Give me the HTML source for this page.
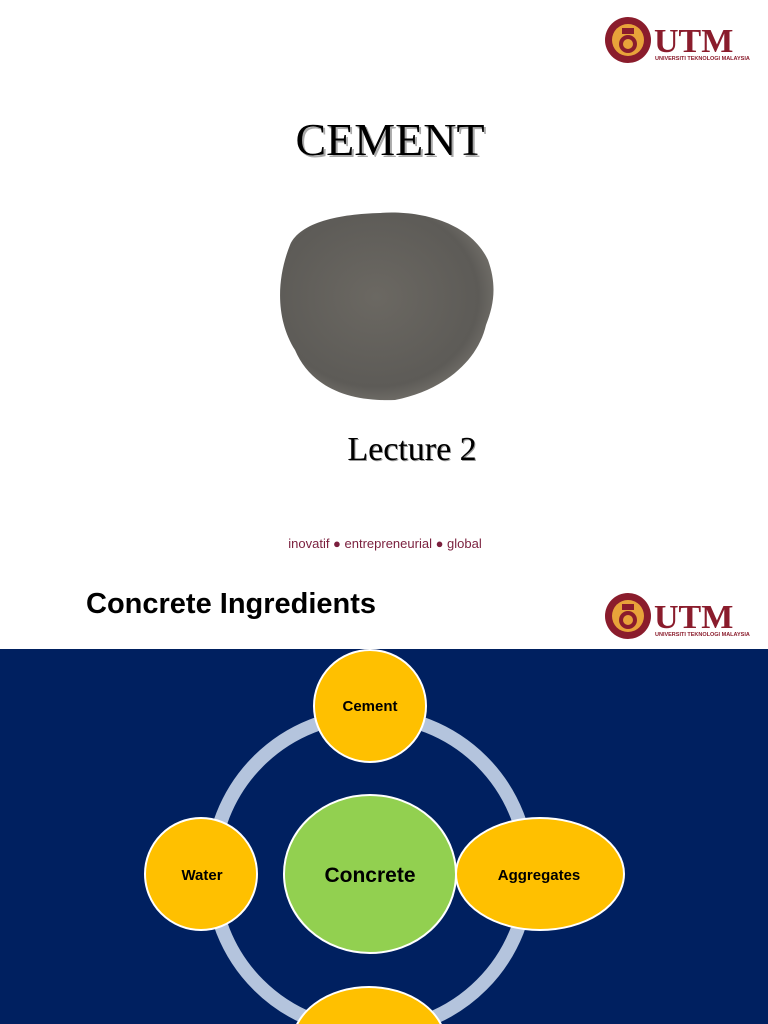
<!DOCTYPE html>
<html><head><meta charset="utf-8"><style>
html,body{margin:0;padding:0;width:768px;height:1024px;overflow:hidden;background:#fff;font-family:"Liberation Sans",sans-serif}
svg{display:block;position:absolute;left:0;top:0}
</style></head><body>
<svg width="768" height="1024" viewBox="0 0 768 1024">
  <defs>
    <radialGradient id="pw" cx="0.45" cy="0.45" r="0.6">
      <stop offset="0" stop-color="#6b6862"/>
      <stop offset="0.8" stop-color="#5d5b57"/>
      <stop offset="1" stop-color="#77746e"/>
    </radialGradient>
  </defs>
  <g id="logo">
    <circle cx="628" cy="40" r="23" fill="#8a1c2c"/>
    <circle cx="628" cy="40" r="16" fill="#e8a33a"/>
    <circle cx="628" cy="44" r="9" fill="#8a1c2c"/>
    <circle cx="628" cy="44" r="5" fill="#e8a33a"/>
    <rect x="622" y="28" width="12" height="6" fill="#8a1c2c"/>
    <text x="654" y="52" font-family="Liberation Serif,serif" font-size="34" font-weight="bold" fill="#8a1c2c">UTM</text>
    <text x="655" y="60" font-family="Liberation Sans,sans-serif" font-size="5.5" font-weight="bold" fill="#8a1c2c">UNIVERSITI TEKNOLOGI MALAYSIA</text>
  </g>
  <use href="#logo" y="576"/>
  <text x="392" y="157" text-anchor="middle" font-family="Liberation Serif,serif" font-size="46" fill="#aaa">CEMENT</text>
  <text x="390" y="155" text-anchor="middle" font-family="Liberation Serif,serif" font-size="46" fill="#000">CEMENT</text>
  <path d="M290 245 C300 222 340 214 380 213 C420 210 470 222 488 260 C497 285 494 305 486 325 C478 360 445 390 395 400 C345 402 310 385 295 350 C276 320 276 280 290 245Z" fill="url(#pw)"/>
  <text x="413" y="461" text-anchor="middle" font-family="Liberation Serif,serif" font-size="34" fill="#999">Lecture 2</text>
  <text x="412" y="460" text-anchor="middle" font-family="Liberation Serif,serif" font-size="34" fill="#000">Lecture 2</text>
  <text x="385" y="548" text-anchor="middle" font-size="13" fill="#7a1f3d">inovatif ● entrepreneurial ● global</text>
  <text x="86" y="613" font-size="29" font-weight="bold" fill="#000">Concrete Ingredients</text>
  <rect x="0" y="649" width="768" height="375" fill="#002060"/>
  <circle cx="370" cy="873" r="158" fill="none" stroke="#b4c4dd" stroke-width="14"/>
  <g stroke="#fff" stroke-width="2">
    <ellipse cx="370" cy="706" rx="56" ry="56" fill="#ffc000"/>
    <ellipse cx="201" cy="874" rx="56" ry="56" fill="#ffc000"/>
    <ellipse cx="370" cy="874" rx="86" ry="79" fill="#92d050"/>
    <ellipse cx="540" cy="874" rx="84" ry="56" fill="#ffc000"/>
    <ellipse cx="369" cy="1045" rx="77" ry="58" fill="#ffc000"/>
  </g>
  <g font-weight="bold" text-anchor="middle" fill="#000">
    <text x="370" y="711" font-size="15">Cement</text>
    <text x="202" y="880" font-size="15">Water</text>
    <text x="370" y="882" font-size="21">Concrete</text>
    <text x="539" y="880" font-size="15">Aggregates</text>
  </g>
</svg>
</body></html>
